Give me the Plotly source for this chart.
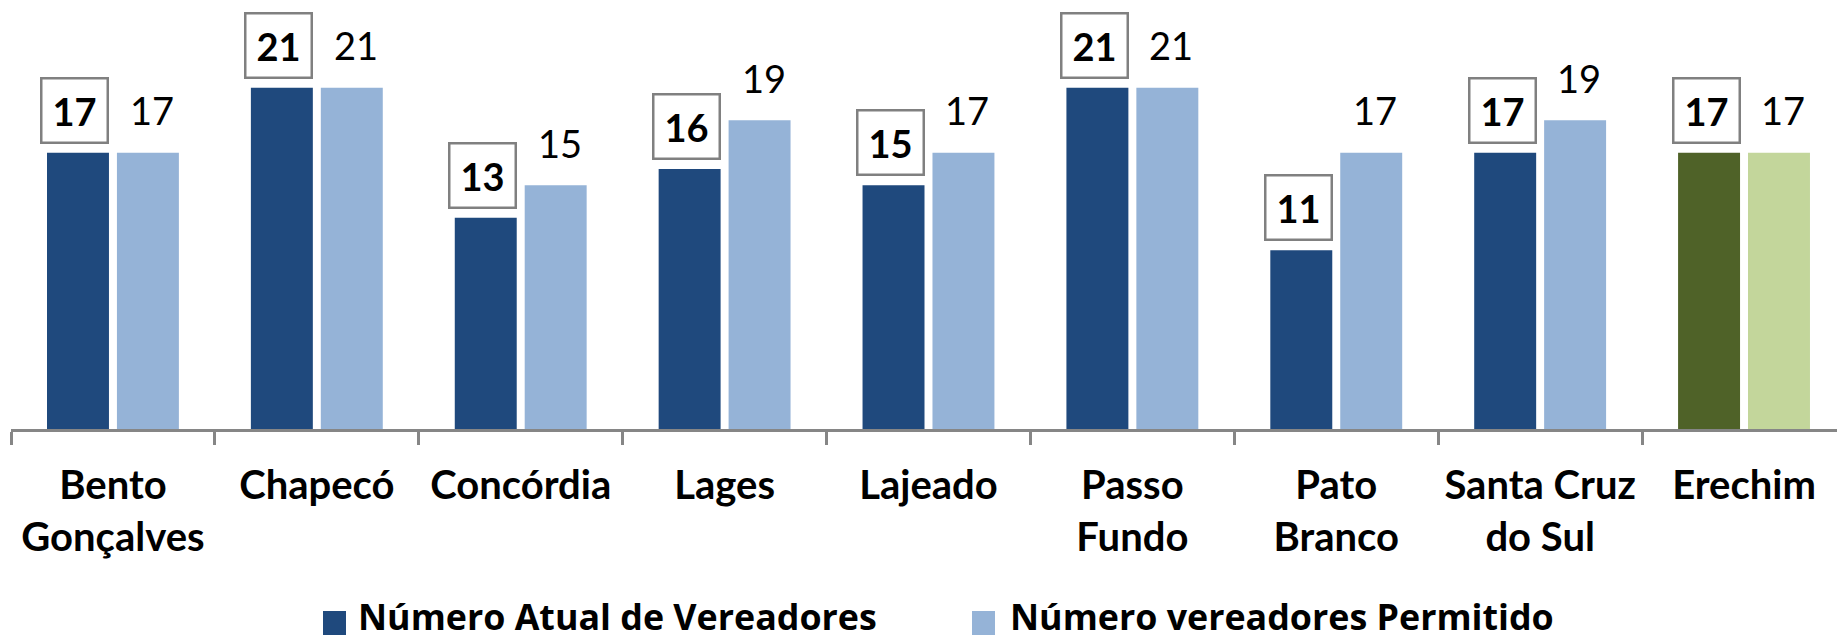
import plotly.graph_objects as go

categories = ["Bento<br>Gonçalves", "Chapecó", "Concórdia", "Lages", "Lajeado",
              "Passo<br>Fundo", "Pato<br>Branco", "Santa Cruz<br>do Sul", "Erechim"]
atual = [17, 21, 13, 16, 15, 21, 11, 17, 17]
permitido = [17, 21, 15, 19, 17, 21, 17, 19, 17]
series_names = ["Número Atual de Vereadores", "Número vereadores Permitido"]

dark_blue = "#1F497D"
light_blue = "#95B3D7"
dark_green = "#4F6228"
light_green = "#C3D69B"

col_atual = [dark_blue] * 8 + [dark_green]
col_perm = [light_blue] * 8 + [light_green]

FONT = "Lato"
LEG_FONT = "Open Sans"
W, H = 1837, 641
ML, MT, MB = 11, 0, 212
PW, PH = W - ML, H - MT - MB

fig = go.Figure()
fig.add_trace(go.Bar(x=categories, y=atual, name=series_names[0],
                     marker=dict(color=col_atual, line=dict(width=0)),
                     showlegend=False, hoverinfo="skip"))
fig.add_trace(go.Bar(x=categories, y=permitido, name=series_names[1],
                     marker=dict(color=col_perm, line=dict(width=0)),
                     showlegend=False, hoverinfo="skip"))

for c, a, p in zip(categories, atual, permitido):
    fig.add_annotation(x=c, y=a, xref="x", yref="y", text="<b>%d</b>" % a, showarrow=False,
                       xshift=-38, yshift=42.5, yanchor="middle",
                       font=dict(family=FONT, size=38, color="black"),
                       bordercolor="#808080", borderwidth=2.5, borderpad=2,
                       width=60, height=58, bgcolor="white")
    fig.add_annotation(x=c, y=p, xref="x", yref="y", text="%d" % p, showarrow=False,
                       xshift=39, yshift=42.5, yanchor="middle",
                       font=dict(family=FONT, size=38, color="black"))


# manual legend (pixel layout -> paper coords)
def px_x(px):
    return (px - ML) / PW


def px_y(py):
    return (MT + PH - py) / PH


legend_items = [(series_names[0], dark_blue, 323, 356), (series_names[1], light_blue, 972, 1008)]
for name, color, sq_x, tx_x in legend_items:
    fig.add_shape(type="rect", xref="paper", yref="paper",
                  x0=px_x(sq_x), x1=px_x(sq_x + 23), y0=px_y(635), y1=px_y(611),
                  fillcolor=color, line=dict(width=0))
    fig.add_annotation(xref="paper", yref="paper", x=px_x(tx_x), y=px_y(616),
                       xanchor="left", yanchor="middle", showarrow=False,
                       text="<b>%s</b>" % name,
                       font=dict(family=LEG_FONT, size=35.8, color="black"))

fig.update_layout(
    width=W, height=H,
    margin=dict(l=ML, r=0, t=MT, b=MB, autoexpand=False),
    plot_bgcolor="white", paper_bgcolor="white",
    barmode="group", bargap=0.314, bargroupgap=0.114,
    font=dict(family=FONT, color="black"),
    showlegend=False,
    xaxis=dict(type="category", range=[-0.5, 8.456], showline=True, linecolor="#868686",
               linewidth=2.5, ticks="outside", tickson="boundaries", ticklen=13,
               tickwidth=2.5, tickcolor="#868686", showgrid=False, automargin=False,
               ticklabelstandoff=19,
               tickfont=dict(family=FONT, size=40, color="black", weight="bold")),
    yaxis=dict(range=[0, 26.4], visible=False, showgrid=False, zeroline=False, automargin=False),
)

fig.write_html("out.html", config={"displayModeBar": False},
               post_script="document.body.style.margin='0';document.body.style.overflow='hidden';")
